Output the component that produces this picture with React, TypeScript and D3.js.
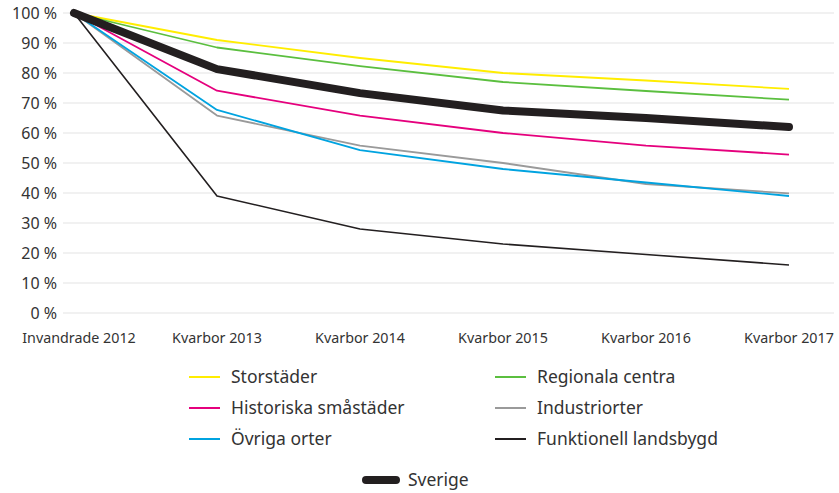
import React from "react";
import * as d3 from "d3";

const categories = ["Invandrade 2012", "Kvarbor 2013", "Kvarbor 2014", "Kvarbor 2015", "Kvarbor 2016", "Kvarbor 2017"];
const storstader = [100, 91, 85, 80, 77.5, 74.7];
const regionala = [100, 88.5, 82.3, 77, 74, 71.1];
const historiska = [100, 74.1, 65.8, 60, 55.8, 52.8];
const industri = [100, 65.8, 55.8, 50, 43, 39.9];
const ovriga = [100, 67.7, 54.3, 48, 43.5, 39];
const funktionell = [100, 39, 28, 23, 19.5, 16];
const sverige = [100, 81.3, 73.3, 67.5, 65, 62];
const yTicks = [0, 10, 20, 30, 40, 50, 60, 70, 80, 90, 100];

const series = [
  { name: "Storstäder", values: storstader, color: "#FFED00", width: 1.8 },
  { name: "Regionala centra", values: regionala, color: "#5BBF3F", width: 1.8 },
  { name: "Historiska småstäder", values: historiska, color: "#E5007D", width: 1.8 },
  { name: "Industriorter", values: industri, color: "#9A9A9A", width: 1.8 },
  { name: "Övriga orter", values: ovriga, color: "#00A3E0", width: 1.8 },
  { name: "Funktionell landsbygd", values: funktionell, color: "#231F20", width: 1.6 },
];
const sverigeSeries = { name: "Sverige", values: sverige, color: "#231F20", width: 8 };

const FONT = "'Noto Sans', 'Open Sans', sans-serif";

export default function App() {
  const W = 839, H = 493;
  const x = d3.scalePoint<string>().domain(categories).range([74, 789]);
  const y = d3.scaleLinear().domain([0, 100]).range([313, 13]);
  const line = d3.line<number>().x((_, i) => x(categories[i])!).y((d) => y(d));

  const legendPos = [
    [189, 377], [495, 377],
    [189, 408], [495, 408],
    [189, 439], [495, 439],
  ];

  return (
    <svg width={W} height={H} style={{ position: "absolute", left: 0, top: 0, background: "#fff" }} fontFamily={FONT}>
      {yTicks.map((t) => (
        <g key={t}>
          <line x1={63} x2={834} y1={y(t)} y2={y(t)} stroke="#e3e3e3" strokeWidth={1} />
          <text x={57} y={y(t)} dy="0.35em" textAnchor="end" fontSize={16} fill="#333">{`${t} %`}</text>
        </g>
      ))}
      {categories.map((c) => (
        <text key={c} x={x(c)! + (c === categories[0] ? 5 : 0)} y={343} textAnchor="middle" fontSize={14.3} fill="#333">{c}</text>
      ))}
      {series.map((s) => (
        <path key={s.name} d={line(s.values)!} fill="none" stroke={s.color} strokeWidth={s.width} strokeLinejoin="round" />
      ))}
      <path d={line(sverigeSeries.values)!} fill="none" stroke={sverigeSeries.color} strokeWidth={sverigeSeries.width} strokeLinejoin="round" strokeLinecap="round" />
      {series.map((s, i) => (
        <g key={s.name}>
          <line x1={legendPos[i][0]} x2={legendPos[i][0] + 31} y1={legendPos[i][1]} y2={legendPos[i][1]} stroke={s.color} strokeWidth={2} />
          <text x={legendPos[i][0] + 42} y={legendPos[i][1]} dy="0.35em" fontSize={17.5} fill="#333">{s.name}</text>
        </g>
      ))}
      <line x1={366} x2={396} y1={480} y2={480} stroke={sverigeSeries.color} strokeWidth={8} strokeLinecap="round" />
      <text x={408} y={480} dy="0.35em" fontSize={17.5} fill="#333">{sverigeSeries.name}</text>
    </svg>
  );
}
